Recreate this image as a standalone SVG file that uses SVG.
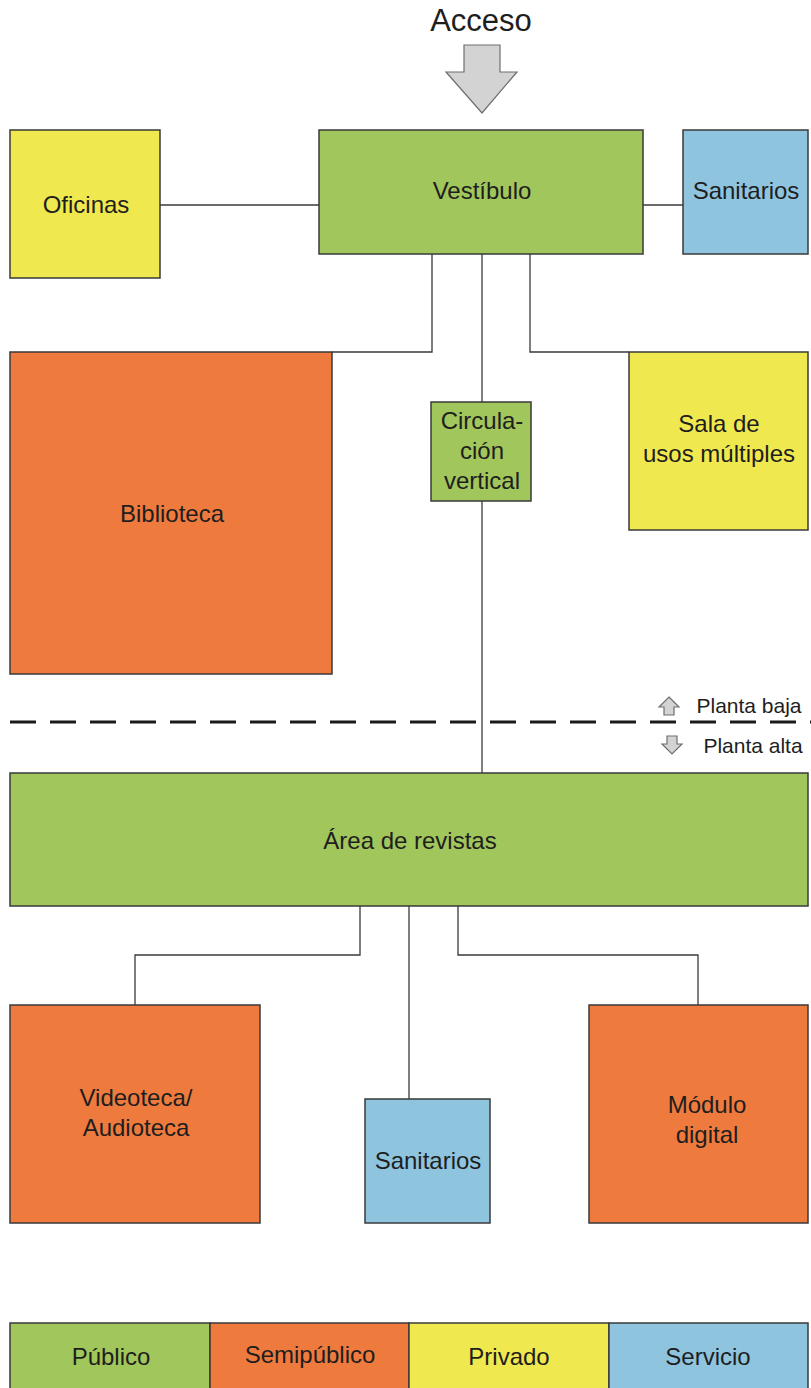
<svg xmlns="http://www.w3.org/2000/svg" width="811" height="1388" viewBox="0 0 811 1388">
<style>
.n{stroke:#3a3a3a;stroke-width:1.5}
.g{fill:#a1c65b}.o{fill:#ef7a3e}.y{fill:#f0e84f}.b{fill:#8fc4de}
text{font-family:"Liberation Sans",Arial,sans-serif;font-size:24px;fill:#1e1e1e;text-anchor:middle}
.c{fill:none;stroke:#3a3a3a;stroke-width:1.3}
.s{fill:#d3d3d3;stroke:#6e6e6e;stroke-width:1.2}
</style>
<rect width="811" height="1388" fill="#fff"/>
<g id="acceso">
<text x="481" y="31" style="font-size:31px">Acceso</text>
<path class="s" d="M464,45 H500 V72 H517 L482,113 L446,72 H464 Z" stroke-width="1.5"/>
</g>
<g id="connectors">
<path class="c" d="M160,205 H319"/>
<path class="c" d="M643,205 H683"/>
<path class="c" d="M432,254 V352 H332"/>
<path class="c" d="M530,254 V352 H629"/>
<path class="c" d="M482,254 V402"/>
<path class="c" d="M482,501 V773"/>
<path class="c" d="M360,906 V955 H135 V1005"/>
<path class="c" d="M409,906 V1099"/>
<path class="c" d="M458,906 V955 H698 V1005"/>
</g>
<g id="oficinas"><rect class="n y" x="10" y="130" width="150" height="148"/><text x="86" y="213">Oficinas</text></g>
<g id="vestibulo"><rect class="n g" x="319" y="130" width="324" height="124"/><text x="482" y="199">Vestíbulo</text></g>
<g id="sanitarios1"><rect class="n b" x="683" y="130" width="125" height="124"/><text x="746" y="199">Sanitarios</text></g>
<g id="biblioteca"><rect class="n o" x="10" y="352" width="322" height="322"/><text x="172" y="522">Biblioteca</text></g>
<g id="circulacion"><rect class="n g" x="431" y="402" width="100" height="99"/><text x="482" y="429">Circula-</text><text x="482" y="459">ción</text><text x="482" y="489">vertical</text></g>
<g id="sala"><rect class="n y" x="629" y="352" width="179" height="178"/><text x="719" y="432">Sala de</text><text x="719" y="462">usos múltiples</text></g>
<g id="niveles">
<path d="M10,722 H811" stroke="#1a1a1a" stroke-width="3" stroke-dasharray="26,14" fill="none"/>
<path class="s" d="M669,697 L679,707 H674 V715 H664 V707 H659 Z"/>
<text x="749" y="713" style="font-size:21px">Planta baja</text>
<path class="s" d="M667,736 V744 H662 L672,754 L682,744 H677 V736 Z"/>
<text x="753" y="753" style="font-size:21px">Planta alta</text>
</g>
<g id="revistas"><rect class="n g" x="10" y="773" width="798" height="133"/><text x="410" y="849">Área de revistas</text></g>
<g id="videoteca"><rect class="n o" x="10" y="1005" width="250" height="218"/><text x="136" y="1106">Videoteca/</text><text x="136" y="1136">Audioteca</text></g>
<g id="sanitarios2"><rect class="n b" x="365" y="1099" width="125" height="124"/><text x="428" y="1169">Sanitarios</text></g>
<g id="modulo"><rect class="n o" x="589" y="1005" width="219" height="218"/><text x="707" y="1113">Módulo</text><text x="707" y="1143">digital</text></g>
<g id="leyenda">
<rect class="n g" x="10" y="1323" width="200" height="70"/><text x="111" y="1365">Público</text>
<rect class="n o" x="210" y="1323" width="199" height="70"/><text x="310" y="1363">Semipúblico</text>
<rect class="n y" x="409" y="1323" width="200" height="70"/><text x="509" y="1365">Privado</text>
<rect class="n b" x="609" y="1323" width="199" height="70"/><text x="708" y="1365">Servicio</text>
</g>
</svg>
